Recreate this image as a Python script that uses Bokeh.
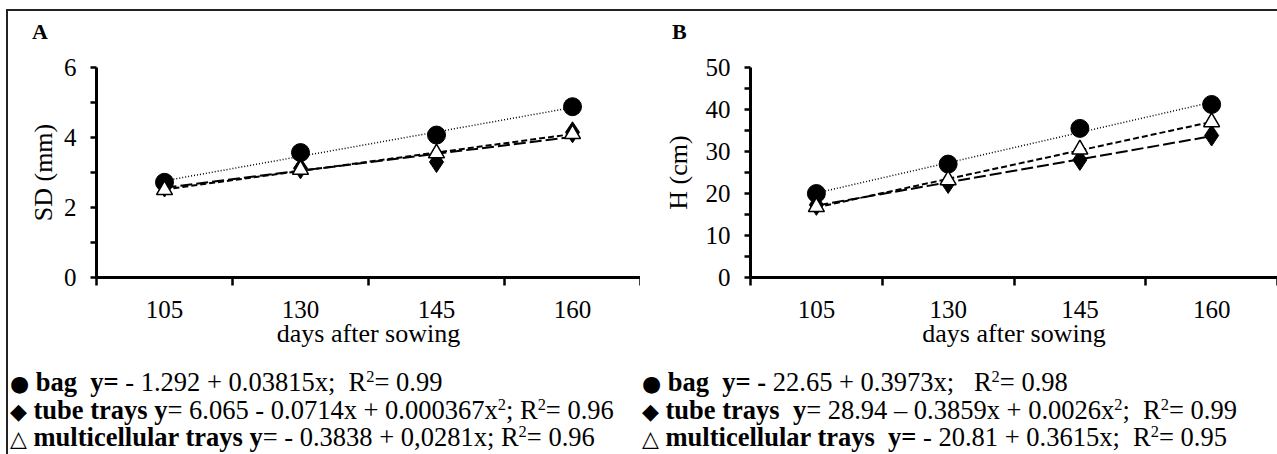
import numpy as np
from bokeh.plotting import figure
from bokeh.models import Range1d, FixedTicker, Div
from bokeh.layouts import row, column
from bokeh.embed import file_html
from bokeh.resources import INLINE

# ---- data ----
days = ["105", "130", "145", "160"]
sd_bag = [2.72, 3.57, 4.07, 4.88]
sd_tube = [2.60, 3.12, 3.30, 4.15]
sd_multi = [2.50, 3.08, 3.55, 4.10]
h_bag = [20.0, 27.0, 35.5, 41.2]
h_tube = [17.3, 22.5, 28.0, 33.8]
h_multi = [16.8, 23.2, 30.5, 37.0]

sd_ticks = [0, 2, 4, 6]
sd_minor = [1, 3, 5]
h_ticks = [0, 10, 20, 30, 40, 50]
h_minor = [5, 15, 25, 35, 45]

legend_a = [
    ("\u25CF", "bag&nbsp; y=", " - 1.292 + 0.03815x;&nbsp; R<sup>2</sup>= 0.99"),
    ("\u25C6", "tube trays y", "= 6.065 - 0.0714x + 0.000367x<sup>2</sup>; R<sup>2</sup>= 0.96"),
    ("\u25B3", "multicellular trays y", "= - 0.3838 + 0,0281x; R<sup>2</sup>= 0.96"),
]
legend_b = [
    ("\u25CF", "bag&nbsp; y= -", " 22.65 + 0.3973x;&nbsp;&nbsp; R<sup>2</sup>= 0.98"),
    ("\u25C6", "tube trays&nbsp; y", "= 28.94 \u2013 0.3859x + 0.0026x<sup>2</sup>;&nbsp; R<sup>2</sup>= 0.99"),
    ("\u25B3", "multicellular trays&nbsp; y=", " - 20.81 + 0.3615x;&nbsp; R<sup>2</sup>= 0.95"),
]

SERIF = "Liberation Serif"
LETTER_H = 29
TOP = 27
FRAME_H = 210
BOTTOM = 88
FIG_H = TOP + FRAME_H + BOTTOM


def panel(ylab, ylab_standoff, ymax, ticks, minor, bag, tube, multi, width, left):
    p = figure(width=width, height=FIG_H, x_range=Range1d(0, 4), y_range=Range1d(0, ymax),
               output_backend="svg", toolbar_location=None,
               min_border_left=left, min_border_right=0, min_border_top=TOP,
               min_border_bottom=BOTTOM)
    p.outline_line_color = None
    p.grid.visible = False

    idx = np.arange(len(days)) + 0.5
    # trend lines fitted to the data (category index)
    xs_fit = np.array([idx[0], idx[-1]])
    for vals, dash, lw in [(bag, "1 2", 1.5), (multi, "6 3", 2), (tube, "12 4", 2)]:
        c = np.polyfit(idx, vals, 1)
        p.line(xs_fit, np.polyval(c, xs_fit), line_color="black", line_dash=dash, line_width=lw)

    p.scatter(idx, bag, marker="circle", size=18, fill_color="black", line_color="black")
    p.scatter(idx, tube, marker="diamond", size=21, fill_color="black", line_color="black")
    p.scatter(idx, multi, marker="triangle", size=16, fill_color="white", line_color="black",
              line_width=1.5)

    xa = p.xaxis[0]
    xa.ticker = FixedTicker(ticks=list(idx), minor_ticks=list(range(len(days) + 1)))
    xa.major_label_overrides = {float(i): d for i, d in zip(idx, days)}
    xa.major_tick_line_color = None
    xa.major_tick_out = 8
    xa.major_tick_in = 0
    xa.minor_tick_out = 8
    xa.minor_tick_in = 0
    xa.minor_tick_line_width = 2.5
    xa.minor_tick_line_color = "black"
    xa.major_label_standoff = 15
    xa.axis_label = "days after sowing"
    xa.axis_label_standoff = -2

    ya = p.yaxis[0]
    ya.ticker = FixedTicker(ticks=ticks, minor_ticks=minor)
    ya.major_tick_out = 6
    ya.major_tick_in = 0
    ya.minor_tick_out = 6
    ya.minor_tick_in = 0
    ya.major_tick_line_width = 2.5
    ya.minor_tick_line_width = 2.5
    ya.major_tick_line_color = "black"
    ya.minor_tick_line_color = "black"
    ya.major_label_standoff = 14
    ya.axis_label = ylab
    ya.axis_label_standoff = ylab_standoff

    for ax in (xa, ya):
        ax.axis_line_width = 3
        ax.axis_line_color = "black"
        ax.major_label_text_font = SERIF
        ax.major_label_text_font_size = "25px"
        ax.major_label_text_color = "black"
        ax.axis_label_text_font = SERIF
        ax.axis_label_text_font_size = "26px"
        ax.axis_label_text_font_style = "normal"
        ax.axis_label_text_color = "black"
    return p


def letter_div(letter, width, pad_left):
    return Div(text=f"<b>{letter}</b>", width=width, height=LETTER_H, margin=0,
               styles={"font-family": "'Liberation Serif', serif", "font-size": "22px",
                       "line-height": "24px", "color": "black", "padding-top": "9px",
                       "padding-left": f"{pad_left}px", "box-sizing": "border-box",
                       "overflow": "visible"})


def legend_div(items, width, height, pad_top):
    lines = []
    for sym, bold, rest in items:
        lines.append(f"<div style='white-space:nowrap;height:27.5px;line-height:27.5px'>"
                     f"<span style='font-family:DejaVu Sans;font-size:22px;line-height:1'>{sym}</span> "
                     f"<b style='font-size:26.5px'>{bold}</b>{rest}</div>")
    html = "".join(lines)
    return Div(text=html, width=width, height=height, margin=0,
               styles={"font-family": "'Liberation Serif', serif", "font-size": "26.5px",
                       "color": "black", "padding-top": f"{pad_top}px", "padding-left": "2px",
                       "box-sizing": "border-box", "overflow": "visible"},
               stylesheets=["sup{font-size:0.62em;line-height:0;vertical-align:0.55em;}"])


WA, WB = 632, 637
pA = panel("SD (mm)", 3, 6, sd_ticks, sd_minor, sd_bag, sd_tube, sd_multi, WA, 88)
pB = panel("H (cm)", 10, 50, h_ticks, h_minor, h_bag, h_tube, h_multi, WB, 110)

lA = letter_div("A", WA, 24)
lB = letter_div("B", WB, 32)

DIV_H = 454 - 11 - LETTER_H - FIG_H
dA = legend_div(legend_a, WA, DIV_H, 4)
dB = legend_div(legend_b, WB, DIV_H, 4)

layout = column(row(lA, lB), row(pA, pB), row(dA, dB),
                styles={"margin-top": "9px", "margin-left": "6px",
                        "border-top": "2px solid #222", "border-left": "2px solid #222"})

open("out.html", "w").write(file_html(layout, INLINE))
